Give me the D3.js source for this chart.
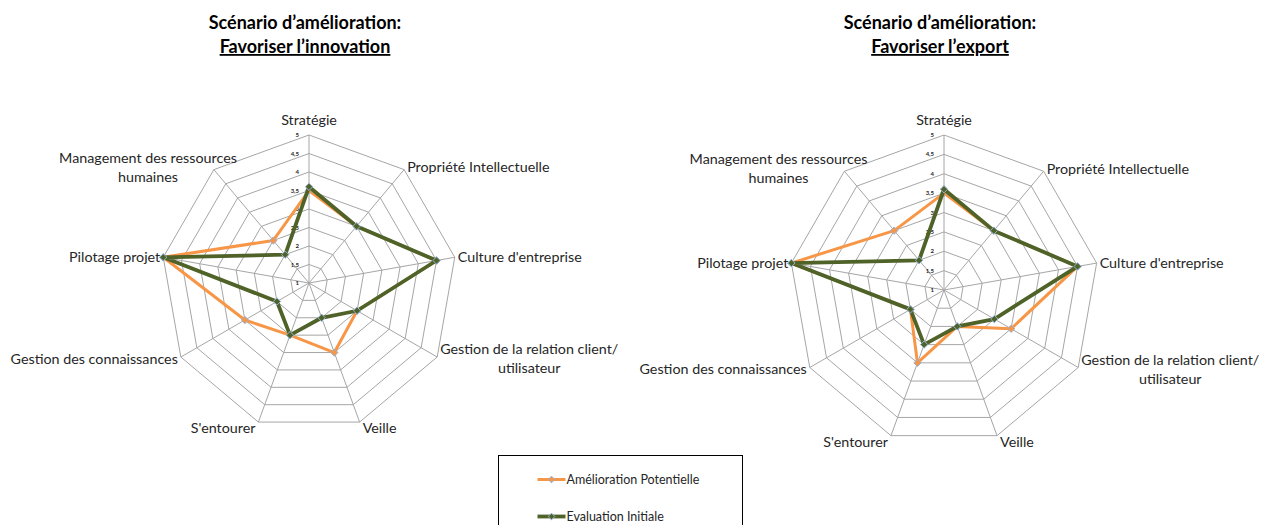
<!DOCTYPE html>
<html>
<head>
<meta charset="utf-8">
<script src="https://cdn.jsdelivr.net/npm/d3@7"></script>
<style>
  html, body { margin: 0; padding: 0; background: #fff; }
  svg { display: block; font-family: Lato, "Open Sans", sans-serif; }
</style>
</head>
<body>
<svg id="chart" width="1278" height="525"></svg>
<script>
'use strict';

// axes, clockwise from the top
const categories = [
  "Stratégie",
  "Propriété Intellectuelle",
  "Culture d'entreprise",
  "Gestion de la relation client/\nutilisateur",
  "Veille",
  "S'entourer",
  "Gestion des connaissances",
  "Pilotage projet",
  "Management des ressources\nhumaines"
];
const seriesNames = ["Amélioration Potentielle", "Evaluation Initiale"];
const radialTicks = [1, 1.5, 2, 2.5, 3, 3.5, 4, 4.5, 5];

const evaluationInitiale = [3.6, 3, 4.5, 2.5, 2, 2.5, 2, 5, 2];
const innovationAmelioration = [3.5, 3, 4.5, 2.5, 3, 2.5, 3, 5, 2.5];
const exportAmelioration = [3.5, 3, 4.5, 3, 2, 3, 2, 5, 3];

const titleLine1 = "Scénario d’amélioration:";
const innovationTitle = "Favoriser l’innovation";
const exportTitle = "Favoriser l’export";

/***** STYLE *****/
const COLORS = ["#f79646", "#4f6228"];
const WIDTHS = [3, 3.8];
const MARKER_STROKE = "#95b3d7";
const GRID = "#a6a6a6";
const TEXT = "#262626";
// wrapped labels that Excel pulls back toward the plot
const LABEL_SHIFT = {"Management des ressources\nhumaines": 26};

const svg = d3.select("#chart");
const frLocale = d3.formatLocale({decimal: ",", thousands: " ", grouping: [3], currency: ["", " €"]});
const tickFormat = frLocale.format("~g");

function drawRadar(cx, cy, R, titleY, subtitle, values) {
  const g = svg.append("g").attr("transform", "translate(" + cx + "," + cy + ")");
  const r = d3.scaleLinear().domain([1, 5]).range([0, R]);
  const angle = d3.scaleLinear().domain([0, categories.length]).range([0, 2 * Math.PI]);
  const px = (i, v) => Math.sin(angle(i)) * r(v);
  const py = (i, v) => -Math.cos(angle(i)) * r(v);

  // rings
  const ring = d3.line().x(d => d[0]).y(d => d[1]);
  radialTicks.slice(1).map(t => {
    const pts = categories.map((c, i) => [px(i, t), py(i, t)]);
    g.append("path")
     .attr("d", ring(pts) + "Z")
     .attr("fill", "none")
     .attr("stroke", GRID)
     .attr("stroke-width", 1);
  });

  // spokes
  categories.map((c, i) => {
    g.append("line")
     .attr("x1", 0).attr("y1", 0)
     .attr("x2", px(i, 5)).attr("y2", py(i, 5))
     .attr("stroke", GRID)
     .attr("stroke-width", 1);
  });

  // tick labels on the top axis
  radialTicks.map(t => {
    g.append("text")
     .attr("x", -10)
     .attr("y", -r(t))
     .attr("dy", "0.35em")
     .attr("text-anchor", "end")
     .attr("font-size", 6)
     .attr("font-weight", "bold")
     .attr("fill", TEXT)
     .text(tickFormat(t));
  });

  // category labels
  categories.map((c, i) => {
    const a = angle(i);
    const s = Math.sin(a), co = Math.cos(a);
    const vx = px(i, 5), vy = py(i, 5);
    const lines = c.split("\n");
    const lh = 19;
    const t = g.append("text")
               .attr("font-size", 14.3)
               .attr("fill", TEXT)
               .attr("text-anchor", "middle");
    lines.map((l, k) => t.append("tspan").attr("x", 0).attr("dy", k ? lh : 0).text(l));
    const w = d3.max(t.selectAll("tspan").nodes(), n => n.getComputedTextLength());
    const h = (lines.length - 1) * lh;
    let bx;
    if (s > 0.1) bx = vx + 3 + w / 2;
    else if (s < -0.1) bx = vx - 3 - w / 2 + (LABEL_SHIFT[c] || 0);
    else bx = vx;
    let by;
    if (co > 0.9) by = vy - 15;
    else if (co < -0.9) by = vy + 6;
    else by = vy - 3 * co;
    t.attr("transform", "translate(" + bx + "," + (by - h / 2 + 5) + ")");
  });

  // series
  const line = d3.line().x(d => d[0]).y(d => d[1]);
  values.map((vals, si) => {
    const pts = vals.map((v, i) => [px(i, v), py(i, v)]);
    g.append("path")
     .attr("d", line(pts) + "Z")
     .attr("fill", "none")
     .attr("stroke", COLORS[si])
     .attr("stroke-width", WIDTHS[si])
     .attr("stroke-linejoin", "round");
    g.selectAll(null)
     .data(pts)
     .enter()
     .append("path")
     .attr("transform", d => "translate(" + d[0] + "," + d[1] + ")")
     .attr("d", d3.symbol(d3.symbolDiamond2, 34))
     .attr("fill", COLORS[si])
     .attr("stroke", MARKER_STROKE)
     .attr("stroke-width", 1);
  });

  // title
  const tt = svg.append("text")
                .attr("x", cx - 4)
                .attr("y", titleY)
                .attr("text-anchor", "middle")
                .attr("font-size", 18)
                .attr("font-weight", "bold")
                .attr("fill", "#000");
  tt.append("tspan").attr("x", cx - 4).text(titleLine1);
  tt.append("tspan").attr("x", cx - 4).attr("dy", 24)
    .attr("text-decoration", "underline").text(subtitle);
}

drawRadar(309, 283, 148, 29, innovationTitle, [innovationAmelioration, evaluationInitiale]);
drawRadar(944, 290, 155, 29, exportTitle, [exportAmelioration, evaluationInitiale]);

/***** LEGEND *****/
const legend = svg.append("g").attr("transform", "translate(498.5,455.5)");
legend.append("rect")
      .attr("width", 244)
      .attr("height", 90)
      .attr("fill", "#fff")
      .attr("stroke", "#000")
      .attr("stroke-width", 1);
seriesNames.map((name, si) => {
  const y = 24 + si * 37;
  legend.append("line")
        .attr("x1", 39).attr("x2", 67)
        .attr("y1", y).attr("y2", y)
        .attr("stroke", COLORS[si])
        .attr("stroke-width", WIDTHS[si]);
  legend.append("path")
        .attr("transform", "translate(53," + y + ")")
        .attr("d", d3.symbol(d3.symbolDiamond2, 28))
        .attr("fill", COLORS[si])
        .attr("stroke", MARKER_STROKE)
        .attr("stroke-width", 1);
  legend.append("text")
        .attr("x", 68)
        .attr("y", y)
        .attr("dy", "0.35em")
        .attr("font-size", 12.5)
        .attr("fill", TEXT)
        .text(name);
});
</script>
</body>
</html>
